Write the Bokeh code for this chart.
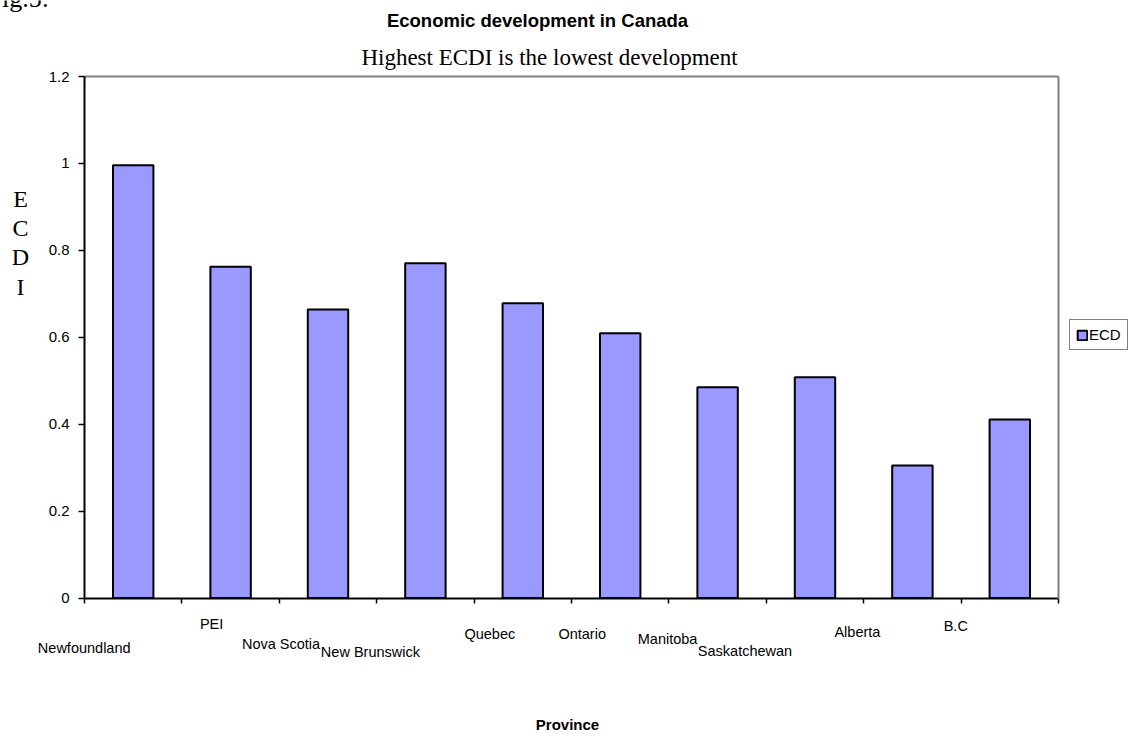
from bokeh.plotting import figure
from bokeh.models import (ColumnDataSource, FixedTicker, Range1d, Label, LabelSet,
                          Legend, LegendItem, LinearAxis)
from bokeh.core.properties import value
from bokeh.embed import file_html
from bokeh.resources import INLINE

# ---------------- data ----------------
categories = ["Newfoundland", "PEI", "Nova Scotia", "New Brunswick", "Quebec",
              "Ontario", "Manitoba", "Saskatchewan", "Alberta", "B.C"]
ecdi = [0.996, 0.762, 0.664, 0.770, 0.678, 0.609, 0.485, 0.508, 0.305, 0.411]
series_name = "ECD"
y_ticks = [0, 0.2, 0.4, 0.6, 0.8, 1.0, 1.2]
y_tick_labels = ["0", "0.2", "0.4", "0.6", "0.8", "1", "1.2"]
fig_label = "Fig.5:"
title_text = "Economic development in Canada"
subtitle_text = "Highest ECDI is the lowest development"
y_title = "ECDI"
x_title = "Province"

# ---------------- layout ----------------
W, H = 1130, 736
n = len(categories)
Y_MAX = 1.2
# pixel placement of the value area inside the canvas
AX_LEFT, AX_RIGHT, AX_TOP, AX_BOTTOM = 84, 1058, 76, 597.5
px_x = (AX_RIGHT - AX_LEFT) / n
px_y = (AX_BOTTOM - AX_TOP) / Y_MAX
x_range = Range1d(-AX_LEFT / px_x, n + (W - AX_RIGHT) / px_x)
y_range = Range1d(-(H - AX_BOTTOM) / px_y, Y_MAX + AX_TOP / px_y)

# staggered category labels: screen px offsets from category centre on the axis
label_dx = [-49, -19, -47, -55, -33, -38, -50, -70, -55, -54]
label_dy = [-50, -26, -46, -53.5, -36, -36, -41, -52.5, -34, -28]

xs = [i + 0.5 for i in range(n)]

p = figure(width=W, height=H, output_backend="svg", toolbar_location=None, title=None,
           x_range=x_range, y_range=y_range, min_border=0)
p.background_fill_color = "white"
p.border_fill_color = "white"
p.outline_line_color = None
p.xgrid.visible = False
p.ygrid.visible = False

# configure the default axes first
yax = p.yaxis[0]
xax = p.xaxis[0]

yax.fixed_location = 0
yax.bounds = (0, Y_MAX)
yax.ticker = FixedTicker(ticks=y_ticks)
yax.major_label_overrides = {t: l for t, l in zip(y_ticks, y_tick_labels)}
yax.major_label_text_font = "Liberation Sans"
yax.major_label_text_font_size = "15px"
yax.major_label_text_color = "black"
yax.major_label_standoff = 9
yax.major_tick_out = 6
yax.major_tick_in = 0
yax.major_tick_line_color = "black"
yax.major_tick_line_width = 1.5
yax.minor_tick_line_color = None
yax.axis_line_color = "black"
yax.axis_line_width = 2

xax.fixed_location = 0
xax.bounds = (0, n)
xax.ticker = FixedTicker(ticks=list(range(n + 1)))
xax.major_label_overrides = {i: "" for i in range(n + 1)}
xax.major_label_text_font_size = "0px"
xax.major_tick_out = 5
xax.major_tick_in = 0
xax.major_tick_line_color = "black"
xax.major_tick_line_width = 1.5
xax.minor_tick_line_color = None
xax.axis_line_color = "black"
xax.axis_line_width = 2

# gray top / right frame lines
top_ax = LinearAxis(fixed_location=Y_MAX, bounds=(0, n), ticker=FixedTicker(ticks=[]),
                    axis_line_color="#808080", axis_line_width=2,
                    major_tick_line_color=None, minor_tick_line_color=None,
                    major_label_text_font_size="0px")
p.add_layout(top_ax, "above")
right_ax = LinearAxis(fixed_location=n, bounds=(0, Y_MAX), ticker=FixedTicker(ticks=[]),
                      axis_line_color="#808080", axis_line_width=2,
                      major_tick_line_color=None, minor_tick_line_color=None,
                      major_label_text_font_size="0px")
p.add_layout(right_ax, "right")

src = ColumnDataSource(dict(x=xs, top=ecdi))
r = p.vbar(x="x", top="top", bottom=0, width=0.415, source=src,
           fill_color="#9999FF", line_color="black", line_width=2)

# category labels
lsrc = ColumnDataSource(dict(x=xs, y=[0] * n, text=categories, dx=label_dx, dy=label_dy))
p.add_layout(LabelSet(x="x", y="y", text="text", x_offset="dx", y_offset="dy", source=lsrc,
                      text_font=value("Liberation Sans"), text_font_size=value("14.5px"),
                      text_color="black", text_align="center", text_baseline="middle"))

# texts (screen units: from bottom-left of canvas), vertically centred
def add_text(x, y_from_top, text, font, size, style="normal", align="center", lh=1.2):
    p.add_layout(Label(x=x, y=H - y_from_top, x_units="screen", y_units="screen", text=text,
                       text_font=font, text_font_size=size, text_font_style=style,
                       text_align=align, text_baseline="middle", text_line_height=lh,
                       text_color="black"))

add_text(-13, -2, fig_label, "Liberation Serif", "26px", align="left")
add_text(537, 19.5, title_text, "Liberation Sans", "18.5px", style="bold")
add_text(549, 57, subtitle_text, "Liberation Serif", "23px")
add_text(20, 242.3, "\n".join(y_title), "Liberation Serif", "24px", lh=1.13)
add_text(567, 723.5, x_title, "Liberation Sans", "15px", style="bold")

legend = Legend(items=[LegendItem(label=series_name, renderers=[r])], location=(1069, H - 350),
                margin=0, padding=6, spacing=0, glyph_width=12, glyph_height=12,
                label_height=16, label_standoff=1, label_text_font="Liberation Sans",
                label_text_font_size="15px", label_text_color="black",
                border_line_color="black", border_line_width=1, background_fill_color="white",
                background_fill_alpha=1)
p.add_layout(legend)

open("out.html", "w").write(file_html(p, INLINE))
